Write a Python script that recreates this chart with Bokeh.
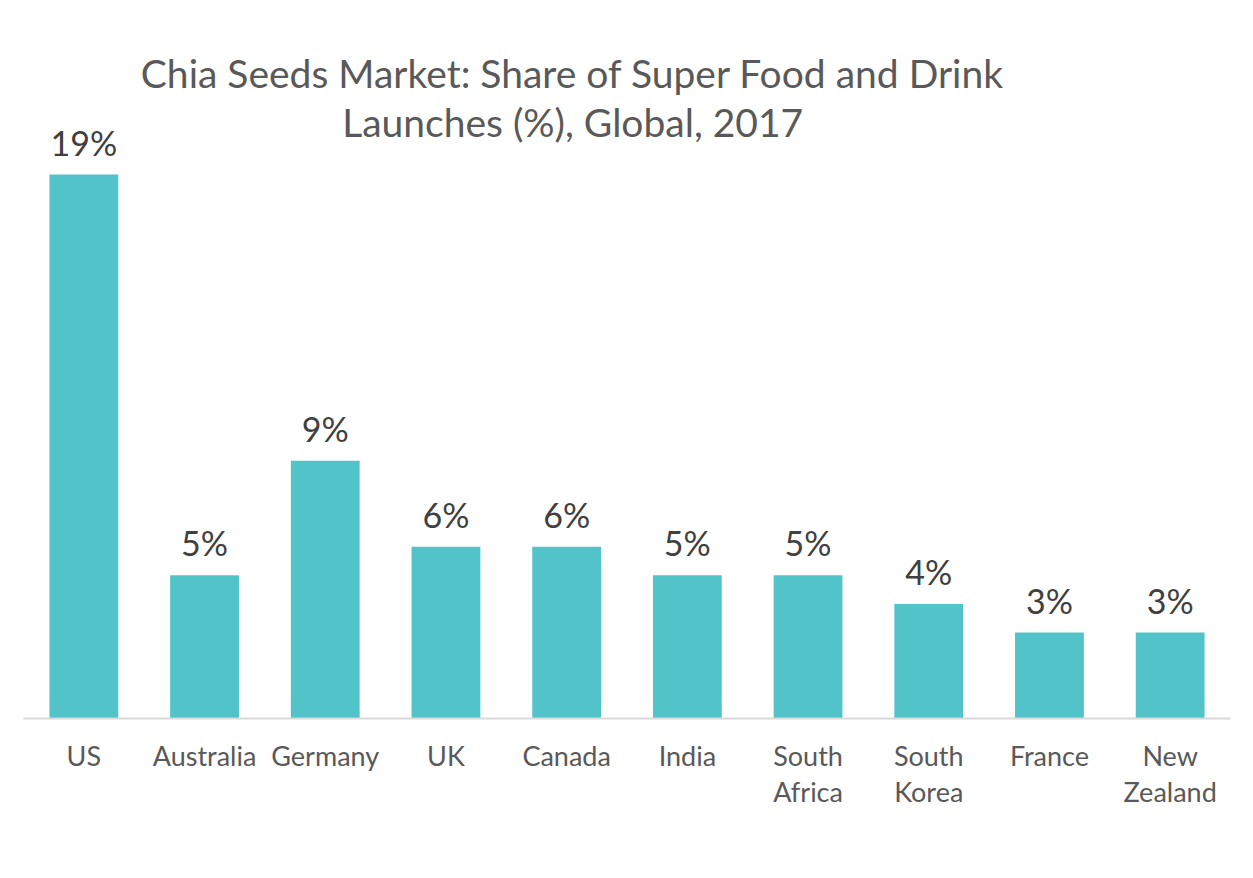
from bokeh.plotting import figure
from bokeh.models import ColumnDataSource, LabelSet, Label
from bokeh.core.properties import value
from bokeh.embed import file_html
from bokeh.resources import INLINE

categories = ["US", "Australia", "Germany", "UK", "Canada", "India",
              "South\nAfrica", "South\nKorea", "France", "New\nZealand"]
values = [19, 5, 9, 6, 6, 5, 5, 4, 3, 3]
value_labels = [f"{v}%" for v in values]
title_lines = ["Chia Seeds Market: Share of Super Food and Drink",
               "Launches (%), Global, 2017"]

FONT = "Lato"
TXT = "#595959"

src = ColumnDataSource(dict(cat=categories, val=values, lab=value_labels))

p = figure(x_range=categories, y_range=(0, 24.8), width=1245, height=862,
           output_backend="svg", toolbar_location=None,
           min_border_left=23, min_border_right=15, min_border_top=8,
           min_border_bottom=144)
p.vbar(x="cat", top="val", width=0.57, source=src, color="#52C4C9", line_color=None)

p.add_layout(LabelSet(x="cat", y="val", text="lab", source=src, y_offset=19,
                      text_align="center", text_baseline="alphabetic",
                      text_font=value(FONT), text_font_size="34px", text_color="#404040"))

for t, yy in zip(title_lines, [22.56, 20.85]):
    p.add_layout(Label(x=4.55, y=yy, text=t, text_align="center",
                       text_baseline="alphabetic", text_font=FONT,
                       text_font_size="39px", text_color=TXT))

p.yaxis.visible = False
p.xgrid.visible = False
p.ygrid.visible = False
p.outline_line_color = None
ax = p.xaxis[0]
ax.axis_line_color = "#D9D9D9"
ax.axis_line_width = 2
ax.major_tick_line_color = None
ax.minor_tick_line_color = None
ax.major_label_standoff = 14
ax.major_label_text_font = FONT
ax.major_label_text_font_size = "27px"
ax.major_label_text_color = TXT
ax.major_label_text_line_height = 1.1

open("out.html", "w").write(file_html(p, INLINE))
